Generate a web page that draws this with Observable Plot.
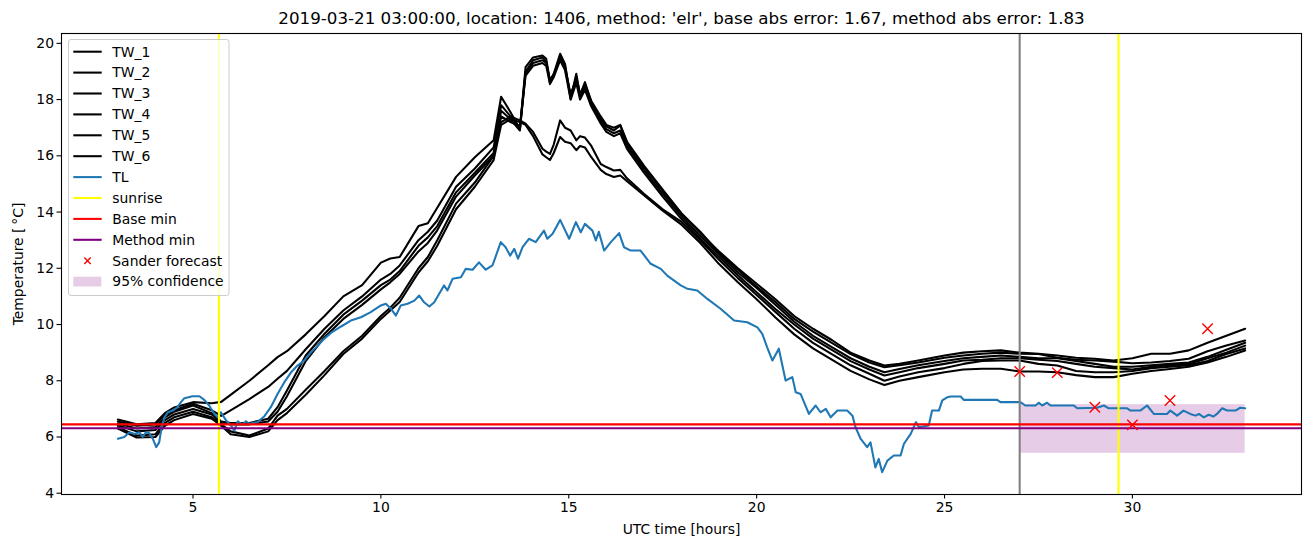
<!DOCTYPE html>
<html><head><meta charset="utf-8">
<script src="https://cdn.jsdelivr.net/npm/d3@7"></script>
<script src="https://cdn.jsdelivr.net/npm/@observablehq/plot@0.6"></script>
<style>body{margin:0;background:#fff;} svg{display:block}</style>
</head><body><div id="chart"></div>
<script>
const title = "2019-03-21 03:00:00, location: 1406, method: 'elr', base abs error: 1.67, method abs error: 1.83";
const xLabel = "UTC time [hours]";
const yLabel = "Temperature [\u2009\u00b0C]";
const xTicks = [5, 10, 15, 20, 25, 30];
const yTicks = [4, 6, 8, 10, 12, 14, 16, 18, 20];

const twHours = [3.0,3.5,4.0,4.25,4.5,5.0,5.5,5.75,6.0,6.5,
 7.0,7.25,7.5,8.0,8.5,9.0,9.5,10.0,10.25,10.5,
 11.0,11.25,11.5,12.0,12.5,13.0,13.2,13.45,13.7,13.85,
 14.05,14.3,14.4,14.5,14.6,14.77,14.9,15.05,15.2,15.3,
 15.43,15.6,15.85,16.0,16.2,16.37,16.55,17.0,17.5,18.0,
 18.5,19.0,19.5,20.0,20.5,21.0,21.5,22.0,22.5,23.0,
 23.4,23.8,24.3,25.0,25.5,26.0,26.5,27.0,27.5,28.0,
 28.5,29.0,29.5,30.0,30.5,31.0,31.5,32.0,32.5,33.0];
const TW_1 = [6.62,6.45,6.50,6.85,7.05,7.24,7.20,7.25,7.50,8.00,
 8.55,8.84,9.05,9.65,10.30,11.00,11.40,12.20,12.35,12.40,
 13.50,13.60,14.15,15.25,15.95,16.55,18.10,17.55,16.95,19.15,
 19.50,19.57,19.45,18.65,18.92,19.63,19.27,18.03,18.92,18.14,
 18.62,17.90,17.31,17.05,16.90,17.08,16.45,15.60,14.75,13.95,
 13.25,12.60,12.00,11.45,10.90,10.30,9.85,9.45,9.00,8.72,
 8.54,8.60,8.72,8.90,9.00,9.05,9.08,9.00,8.96,8.90,
 8.82,8.78,8.72,8.80,8.96,8.96,9.08,9.35,9.60,9.85];
const TW_2 = [6.55,6.40,6.45,6.80,6.95,7.18,6.95,6.75,6.95,7.35,
 7.78,8.07,8.35,9.12,9.85,10.50,11.00,11.60,11.80,12.10,
 13.00,13.30,13.70,14.90,15.55,16.30,17.80,17.40,17.00,19.00,
 19.40,19.50,19.35,18.60,18.85,19.55,19.20,18.10,18.80,18.20,
 18.55,17.95,17.40,17.10,17.00,17.10,16.50,15.65,14.80,13.95,
 13.30,12.55,11.95,11.35,10.80,10.20,9.75,9.35,8.95,8.65,
 8.48,8.55,8.65,8.82,8.90,8.96,9.00,8.96,8.95,8.82,
 8.75,8.72,8.68,8.62,8.65,8.70,8.78,9.05,9.25,9.43];
const TW_3 = [6.48,6.30,6.35,6.70,6.90,7.12,6.85,6.55,6.50,6.50,
 6.65,7.06,7.65,8.90,9.67,10.35,10.85,11.40,11.60,11.90,
 12.80,13.10,13.50,14.70,15.40,16.10,17.60,17.30,16.90,18.95,
 19.30,19.40,19.30,18.70,18.90,19.45,19.10,18.20,18.70,18.10,
 18.45,17.85,17.25,16.95,16.80,16.90,16.35,15.50,14.65,13.85,
 13.15,12.50,11.85,11.30,10.70,10.10,9.60,9.20,8.80,8.50,
 8.30,8.42,8.55,8.70,8.80,8.85,8.90,8.85,8.80,8.80,
 8.70,8.60,8.50,8.50,8.55,8.60,8.65,8.85,9.10,9.35];
const TW_4 = [6.42,6.20,6.25,6.60,6.80,7.00,6.80,6.50,6.45,6.45,
 6.55,6.90,7.45,8.70,9.55,10.20,10.70,11.25,11.50,11.80,
 12.60,12.90,13.35,14.55,15.30,16.00,17.40,17.20,17.05,18.85,
 19.20,19.30,19.20,18.55,18.80,19.40,19.05,18.00,18.60,18.00,
 18.35,17.75,17.15,16.85,16.70,16.80,16.25,15.40,14.55,13.75,
 13.05,12.40,11.75,11.15,10.55,10.00,9.50,9.10,8.70,8.40,
 8.19,8.30,8.45,8.60,8.72,8.75,8.80,8.80,8.75,8.70,
 8.60,8.50,8.45,8.40,8.50,8.55,8.60,8.80,9.00,9.25];
const TW_5 = [6.35,6.05,6.10,6.50,6.70,6.90,6.70,6.45,6.20,6.05,
 6.30,6.76,7.00,7.68,8.35,9.05,9.60,10.30,10.60,10.95,
 12.00,12.40,13.00,14.30,15.05,16.00,17.20,17.40,17.26,17.14,
 16.85,16.25,16.15,16.07,16.40,17.26,17.00,16.90,16.55,16.70,
 16.65,16.35,15.71,15.60,15.48,15.50,15.20,14.65,14.10,13.65,
 13.00,12.30,11.65,11.05,10.45,9.85,9.35,8.95,8.55,8.25,
 8.00,8.15,8.30,8.45,8.60,8.70,8.72,8.72,8.60,8.54,
 8.35,8.30,8.30,8.35,8.45,8.50,8.55,8.70,8.95,9.15];
const TW_6 = [6.30,5.98,6.00,6.40,6.60,6.82,6.65,6.40,6.10,6.00,
 6.20,6.60,6.85,7.50,8.20,8.95,9.50,10.20,10.50,10.80,
 11.85,12.25,12.80,14.10,14.90,15.85,17.10,17.30,17.20,17.10,
 16.70,16.05,15.95,15.85,16.10,16.67,16.50,16.45,16.20,16.35,
 16.30,15.95,15.50,15.35,15.25,15.30,15.10,14.60,14.05,13.55,
 12.90,12.15,11.50,10.90,10.25,9.65,9.15,8.75,8.35,8.05,
 7.85,8.00,8.13,8.30,8.40,8.43,8.43,8.33,8.33,8.30,
 8.20,8.13,8.13,8.25,8.35,8.42,8.50,8.65,8.85,9.08];

// TL: [hour, temperature]
const TL = [[3.00,5.94],[3.17,6.00],[3.31,6.17],[3.44,6.11],[3.57,6.17],[3.66,6.00],[3.75,6.17],[3.84,6.13],[3.93,5.94],[4.02,5.64],
 [4.10,5.81],[4.15,6.23],[4.24,6.70],[4.33,6.88],[4.46,6.94],[4.59,7.06],[4.68,7.24],[4.77,7.38],[4.99,7.45],[5.17,7.45],
 [5.30,7.32],[5.43,7.12],[5.57,6.82],[5.66,6.70],[5.74,6.88],[5.88,6.59],[6.01,6.41],[6.10,6.23],[6.19,6.56],[6.32,6.44],
 [6.41,6.56],[6.50,6.47],[6.72,6.53],[6.90,6.74],[7.07,7.06],[7.25,7.53],[7.43,7.95],[7.61,8.30],[7.78,8.54],[7.96,8.72],
 [8.14,9.01],[8.32,9.25],[8.49,9.49],[8.67,9.70],[8.94,9.93],[9.20,10.14],[9.47,10.26],[9.73,10.44],[10.00,10.68],[10.13,10.74],
 [10.27,10.56],[10.40,10.32],[10.53,10.68],[10.71,10.74],[10.89,10.85],[11.02,11.03],[11.15,10.79],[11.29,10.64],[11.42,10.79],[11.68,11.39],
 [11.77,11.21],[11.91,11.63],[12.13,11.68],[12.26,11.98],[12.44,11.95],[12.61,12.21],[12.79,11.95],[12.97,12.10],[13.19,12.93],[13.32,12.75],
 [13.44,12.45],[13.55,12.69],[13.65,12.34],[13.77,12.75],[13.94,13.05],[14.12,12.93],[14.34,13.34],[14.43,13.05],[14.57,13.23],[14.77,13.72],
 [15.01,13.05],[15.19,13.64],[15.32,13.28],[15.43,13.58],[15.63,13.34],[15.72,12.99],[15.80,13.30],[15.94,12.63],[16.12,12.93],[16.34,13.25],
 [16.47,12.75],[16.65,12.63],[16.91,12.63],[17.18,12.16],[17.45,11.98],[17.62,11.74],[17.98,11.39],[18.16,11.27],[18.42,11.21],[18.69,10.91],
 [19.04,10.56],[19.40,10.14],[19.75,10.08],[20.02,9.90],[20.15,9.67],[20.28,9.19],[20.42,8.72],[20.59,9.14],[20.77,8.01],[20.95,8.13],
 [21.04,7.59],[21.17,7.53],[21.39,6.82],[21.57,7.12],[21.70,6.88],[21.84,7.00],[21.97,6.70],[22.15,6.94],[22.41,6.94],[22.55,6.76],
 [22.63,6.35],[22.77,5.93],[22.94,5.64],[23.03,5.81],[23.16,4.92],[23.25,5.22],[23.34,4.75],[23.48,5.16],[23.65,5.34],[23.83,5.34],
 [23.92,5.76],[24.10,6.11],[24.24,6.53],[24.32,6.35],[24.58,6.41],[24.67,6.94],[24.85,6.94],[24.94,7.30],[25.07,7.41],[25.16,7.44],
 [25.43,7.44],[25.51,7.32],[26.40,7.32],[26.49,7.24],[27.02,7.24],[27.15,7.12],[27.42,7.12],[27.51,7.22],[27.60,7.12],[27.73,7.22],
 [27.82,7.12],[28.44,7.12],[28.53,7.02],[29.06,7.04],[29.24,7.12],[29.37,7.02],[29.86,7.02],[29.95,6.94],[30.21,6.94],[30.39,7.12],
 [30.57,6.82],[30.92,6.82],[31.01,6.94],[31.19,6.76],[31.36,6.94],[31.54,6.82],[31.68,6.76],[31.77,6.82],[31.90,6.70],[32.03,6.79],
 [32.16,6.73],[32.25,6.82],[32.39,7.02],[32.52,6.94],[32.74,6.94],[32.87,7.04],[33.00,7.02]];

const sunrise = [5.69, 29.63];
const forecastStart = [27.0];
const baseMin = [6.45];
const methodMin = [6.31];
const sanderHours = [27, 28, 29, 30, 31, 32];
const sanderTemp = [8.33, 8.29, 7.06, 6.43, 7.30, 9.85];
const confidence = [{x1: 27.0, x2: 33.0, y1: 5.42, y2: 7.15}];

const twNames = ["TW_1","TW_2","TW_3","TW_4","TW_5","TW_6"];
const twSeries = [TW_1, TW_2, TW_3, TW_4, TW_5, TW_6];
const twData = twNames.flatMap((name, i) => twHours.map((h, j) => ({series: name, h, t: twSeries[i][j]})));
const tlData = TL.map(([h, t]) => ({h, t}));
const sanderData = sanderHours.map((h, i) => ({h, t: sanderTemp[i]}));

const FONT = "DejaVu Sans";
const LW = 2.08;
const svg = Plot.plot({
  width: 1311, height: 547,
  marginLeft: 61, marginRight: 10, marginTop: 33, marginBottom: 53,
  style: {fontFamily: FONT, fontSize: "13.9px", color: "black", background: "white"},
  x: {domain: [1.5, 34.5]},
  y: {domain: [3.955, 20.35]},
  marks: [
    Plot.rect(confidence, {x1: "x1", x2: "x2", y1: "y1", y2: "y2", fill: "purple", fillOpacity: 0.2}),
    Plot.line(twData, {x: "h", y: "t", z: "series", stroke: "black", strokeWidth: LW}),
    Plot.line(tlData, {x: "h", y: "t", stroke: "#1f77b4", strokeWidth: LW}),
    Plot.ruleX(sunrise, {stroke: "yellow", strokeWidth: LW}),
    Plot.ruleX(forecastStart, {stroke: "gray", strokeWidth: LW}),
    Plot.ruleY(baseMin, {stroke: "red", strokeWidth: LW}),
    Plot.ruleY(methodMin, {stroke: "purple", strokeWidth: LW}),
    Plot.dot(sanderData, {x: "h", y: "t", symbol: "times", stroke: "red", r: 4.8, strokeWidth: 1.4}),
    Plot.frame({stroke: "black", strokeWidth: 1.1}),
    Plot.axisX({ticks: xTicks, tickSize: 4.5, tickPadding: 3, strokeWidth: 1.1, tickFormat: d => String(d), label: null, fontSize: 13.9}),
    Plot.axisY({ticks: yTicks, tickSize: 4.5, tickPadding: 3, strokeWidth: 1.1, tickFormat: d => String(d), label: null, fontSize: 13.9}),
    Plot.text([title], {text: d => d, frameAnchor: "top", dy: -15, lineAnchor: "middle", textAnchor: "middle", fontSize: 16.7}),
    Plot.text([xLabel], {text: d => d, frameAnchor: "bottom", dy: 35, lineAnchor: "middle", textAnchor: "middle", fontSize: 13.9}),
    Plot.text([yLabel], {text: d => d, frameAnchor: "left", dx: -43, rotate: -90, lineAnchor: "middle", textAnchor: "middle", fontSize: 13.9})
  ]
});
document.getElementById("chart").appendChild(svg);

// Legend (matplotlib-style, upper left)
const legendItems = [
  {label: "TW_1", kind: "line", color: "black"},
  {label: "TW_2", kind: "line", color: "black"},
  {label: "TW_3", kind: "line", color: "black"},
  {label: "TW_4", kind: "line", color: "black"},
  {label: "TW_5", kind: "line", color: "black"},
  {label: "TW_6", kind: "line", color: "black"},
  {label: "TL", kind: "line", color: "#1f77b4"},
  {label: "sunrise", kind: "line", color: "yellow"},
  {label: "Base min", kind: "line", color: "red"},
  {label: "Method min", kind: "line", color: "purple"},
  {label: "Sander forecast", kind: "cross", color: "red"},
  {label: "95% confidence", kind: "patch", color: "purple"}
];
const lg = d3.select(svg).append("g").attr("font-family", FONT).attr("font-size", "13.9px").attr("text-anchor", "start");
lg.append("rect").attr("x", 68.5).attr("y", 39.5).attr("width", 160.5).attr("height", 256)
  .attr("rx", 2.5).attr("fill", "white").attr("fill-opacity", 0.8).attr("stroke", "#cccccc").attr("stroke-width", 1);
legendItems.forEach((it, i) => {
  const y = 51.7 + 20.9 * i;
  if (it.kind === "line") {
    lg.append("line").attr("x1", 73.3).attr("x2", 101.7).attr("y1", y).attr("y2", y)
      .attr("stroke", it.color).attr("stroke-width", LW);
  } else if (it.kind === "cross") {
    const c = 87.5, s = 3.2;
    lg.append("path").attr("d", `M${c-s},${y-s}L${c+s},${y+s}M${c-s},${y+s}L${c+s},${y-s}`)
      .attr("stroke", it.color).attr("stroke-width", 1.4).attr("fill", "none");
  } else {
    lg.append("rect").attr("x", 73.3).attr("y", y - 4.9).attr("width", 28).attr("height", 9.8)
      .attr("fill", it.color).attr("fill-opacity", 0.2);
  }
  lg.append("text").attr("x", 112.3).attr("y", y).attr("dy", "0.35em").attr("fill", "black")
    .attr("text-anchor", "start").text(it.label);
});
</script>
</body></html>
